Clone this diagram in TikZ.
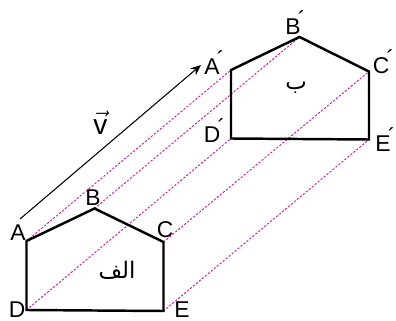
\documentclass[tikz,border=0pt]{standalone}
\usepackage{amsmath}
\usepackage{fontspec}
\setmainfont{Liberation Sans}
\newfontfamily\arabicfont[Script=Arabic]{DejaVu Sans}
\TeXXeTstate=1
\usetikzlibrary{positioning,arrows.meta}
\newcommand{\img}[1]{#1\rlap{\kern-0.12em\raisebox{0.3em}{´}}}

\begin{document}
\begin{tikzpicture}[x=0.02cm, y=-0.02cm, every node/.style={font=\fontsize{13}{15}\selectfont, inner sep=0pt}, poly/.style={line width=1.4pt, line join=miter}, trace/.style={magenta, line width=0.5pt, dash pattern=on 1.2pt off 1pt}]
\useasboundingbox (0,0) rectangle (396,321);
% original shape and its image
\coordinate (a) at (26.5,241); \coordinate (b) at (94.5,208.5); \coordinate (c) at (163.5,242); \coordinate (d) at (26.5,310); \coordinate (e) at (163.5,311);
\coordinate (a1) at (231,70); \coordinate (b1) at (299.5,37); \coordinate (c1) at (369,71.5); \coordinate (d1) at (231,138.5); \coordinate (e1) at (369,139.5);
\draw[trace] (a)--(a1); \draw[trace] (b)--(b1); \draw[trace] (c)--(c1); \draw[trace] (d)--(d1); \draw[trace] (e)--(e1);
\draw[poly] (a)--(b)--(c)--(e)--(d)--cycle;
\draw[poly] (a1)--(b1)--(c1)--(e1)--(d1)--cycle;
% vector
\coordinate (v0) at (20,219); \coordinate (v1) at (201,65);
\draw[-{Stealth[length=6pt,width=5pt]}, line width=0.6pt] (v0)--(v1);
\node[font=\fontsize{16}{18}\selectfont] (lv) at (100.5,123) {$\vec{\text{v}}$};
% labels
\node (la) at (18,233) {A}; \node (lb) at (93,198) {B}; \node (lc) at (165,230) {C}; \node (ld) at (17,310) {D}; \node (le) at (182,310) {E};
\node (la1) at (212,63) {\img{A}}; \node (lb1) at (293,23) {\img{B}}; \node (lc1) at (381,62) {\img{C}}; \node (ld1) at (212,131) {\img{D}}; \node (le1) at (383,140) {\img{E}};
\node (t1) at (117,270) {\arabicfont\beginR الف\endR};
\node (t2) at (296,88) {\arabicfont\beginR ب\endR};
\end{tikzpicture}
\end{document}
